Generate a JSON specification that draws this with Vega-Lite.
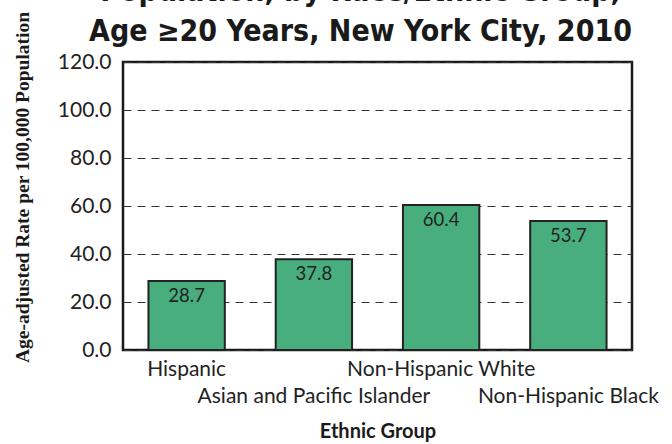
{
  "$schema": "https://vega.github.io/schema/vega-lite/v6.json",
  "autosize": {"type": "none"},
  "width": 509,
  "height": 288,
  "padding": {"left": 123, "top": 62, "right": 40, "bottom": 94},
  "background": "white",
  "title": {
    "text": ["Population, by Race/Ethnic Group,", "Age \u226520 Years,  New York City, 2010"],
    "font": "DejaVu Sans Condensed, Liberation Sans, sans-serif",
    "fontSize": 30,
    "fontWeight": "bold",
    "color": "#1a1a1a",
    "lineHeight": 40,
    "anchor": "middle",
    "baseline": "bottom",
    "offset": 0,
    "dx": -17,
    "dy": 66
  },
  "config": {
    "view": {"stroke": "#1a1a1a", "strokeWidth": 2.5},
    "font": "Lato"
  },
  "data": {
    "values": [
      {"group": "Hispanic", "rate": 28.7},
      {"group": "Asian and Pacific Islander", "rate": 37.8},
      {"group": "Non-Hispanic White", "rate": 60.4},
      {"group": "Non-Hispanic Black", "rate": 53.7}
    ]
  },
  "encoding": {
    "x": {
      "field": "group",
      "type": "nominal",
      "sort": null,
      "scale": {"paddingInner": 0.4, "paddingOuter": 0.2},
      "axis": {
        "title": "Ethnic Group",
        "titleFont": "Lato",
        "titleFontSize": 20,
        "titleFontWeight": "bold",
        "titleColor": "#1a1a1a",
        "titlePadding": 15,
        "labelAngle": 0,
        "labelFont": "Lato",
        "labelFontSize": 21,
        "labelColor": "#222",
        "labelPadding": 8,
        "labelOverlap": false,
        "labelBound": false,
        "labelLimit": 0,
        "labelLineHeight": 27,
        "labelExpr": "(datum.value == 'Asian and Pacific Islander' || datum.value == 'Non-Hispanic Black') ? ['', datum.value] : datum.value",
        "ticks": false,
        "domain": false
      }
    },
    "y": {
      "field": "rate",
      "type": "quantitative",
      "scale": {"domain": [0, 120], "nice": false},
      "axis": {
        "title": "Age-adjusted Rate per 100,000 Population",
        "titleFont": "Liberation Serif",
        "titleFontSize": 19.5,
        "titleFontWeight": "bold",
        "titleColor": "#1a1a1a",
        "titlePadding": 25,
        "titleY": 125,
        "values": [0, 20, 40, 60, 80, 100, 120],
        "format": ".1f",
        "labelFont": "Lato",
        "labelFontSize": 21,
        "labelColor": "#222",
        "labelPadding": 12,
        "ticks": false,
        "domain": false,
        "grid": true,
        "gridColor": "#333",
        "gridDash": [8, 6],
        "gridWidth": 1,
        "gridOpacity": 1
      }
    }
  },
  "layer": [
    {
      "mark": {"type": "bar", "color": "#48ae7e", "stroke": "#222", "strokeWidth": 2}
    },
    {
      "mark": {"type": "text", "baseline": "top", "dy": 6, "font": "Lato", "fontSize": 18.5, "color": "#222"},
      "encoding": {"text": {"field": "rate", "type": "quantitative", "format": ".1f"}}
    }
  ]
}
